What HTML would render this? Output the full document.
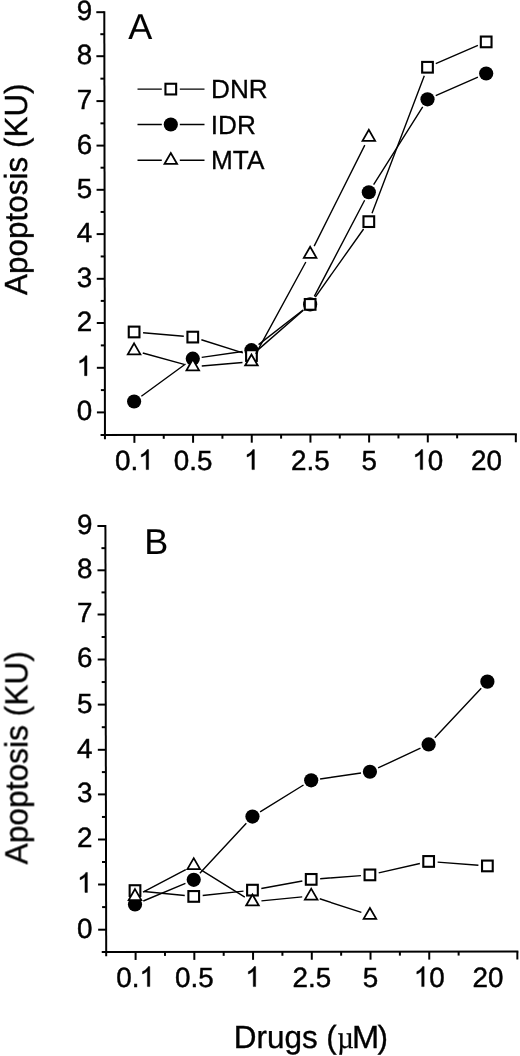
<!DOCTYPE html>
<html><head><meta charset="utf-8"><style>
html,body{margin:0;padding:0;background:#fff;}
svg{display:block;filter:blur(0.3px);}
.t{opacity:0.999;}
text{font-family:"Liberation Sans",sans-serif;fill:#000;text-rendering:geometricPrecision;stroke:#000;}
.tl{stroke-width:0.45px;} .lg{stroke-width:0.3px;} .pl{stroke-width:0.1px;} .at{stroke-width:0.35px;}
path{stroke:#000;}
</style></head><body>
<svg width="520" height="1056" viewBox="0 0 520 1056">
<rect width="520" height="1056" fill="#fff"/>
<g class="t">
<g stroke="#000" stroke-width="2.0" fill="none"><line x1="104.3" y1="11.2" x2="104.95" y2="439.3" /><line x1="100.56" y1="434.9" x2="516.82" y2="434.3" /><line x1="96.91" y1="412.4" x2="104.91" y2="412.4" /><line x1="100.88" y1="390.1" x2="104.88" y2="390.1" /><line x1="96.84" y1="367.8" x2="104.84" y2="367.8" /><line x1="100.81" y1="345.4" x2="104.81" y2="345.4" /><line x1="96.77" y1="323" x2="104.77" y2="323" /><line x1="100.74" y1="300.9" x2="104.74" y2="300.9" /><line x1="96.71" y1="278.8" x2="104.71" y2="278.8" /><line x1="100.67" y1="256.45" x2="104.67" y2="256.45" /><line x1="96.64" y1="234.1" x2="104.64" y2="234.1" /><line x1="100.6" y1="211.95" x2="104.6" y2="211.95" /><line x1="96.57" y1="189.8" x2="104.57" y2="189.8" /><line x1="100.54" y1="167.7" x2="104.54" y2="167.7" /><line x1="96.5" y1="145.6" x2="104.5" y2="145.6" /><line x1="100.47" y1="123.35" x2="104.47" y2="123.35" /><line x1="96.44" y1="101.1" x2="104.44" y2="101.1" /><line x1="100.4" y1="78.65" x2="104.4" y2="78.65" /><line x1="96.37" y1="56.2" x2="104.37" y2="56.2" /><line x1="100.33" y1="34.2" x2="104.33" y2="34.2" /><line x1="96.3" y1="12.2" x2="104.3" y2="12.2" /><line x1="134.4" y1="434.85" x2="134.4" y2="442.85" /><line x1="163.74" y1="434.81" x2="163.74" y2="438.81" /><line x1="193.08" y1="434.77" x2="193.08" y2="442.77" /><line x1="222.42" y1="434.72" x2="222.42" y2="438.72" /><line x1="251.76" y1="434.68" x2="251.76" y2="442.68" /><line x1="281.1" y1="434.64" x2="281.1" y2="438.64" /><line x1="310.44" y1="434.6" x2="310.44" y2="442.6" /><line x1="339.78" y1="434.55" x2="339.78" y2="438.55" /><line x1="369.12" y1="434.51" x2="369.12" y2="442.51" /><line x1="398.46" y1="434.47" x2="398.46" y2="438.47" /><line x1="427.8" y1="434.43" x2="427.8" y2="442.43" /><line x1="457.14" y1="434.38" x2="457.14" y2="438.38" /><line x1="515.82" y1="434.3" x2="515.82" y2="442.3" /></g>
<text class="tl" x="76.64" y="420.3" font-size="27.8">0</text>
<path transform="translate(76.64 375.7) scale(0.01357 -0.01357)" d="M763 0L583 0L583 1147Q518 1085 465 1054Q412 1023 359 992Q306 961 222 930L222 1104Q373 1175 429.5 1225.5Q486 1276 542.5 1326.5Q599 1377 646 1472L763 1472Z" stroke-width="33.15"/>
<text class="tl" x="76.64" y="330.9" font-size="27.8">2</text>
<text class="tl" x="76.64" y="286.7" font-size="27.8">3</text>
<text class="tl" x="76.64" y="242" font-size="27.8">4</text>
<text class="tl" x="76.64" y="197.7" font-size="27.8">5</text>
<text class="tl" x="76.64" y="153.5" font-size="27.8">6</text>
<text class="tl" x="76.64" y="109" font-size="27.8">7</text>
<text class="tl" x="76.64" y="64.1" font-size="27.8">8</text>
<text class="tl" x="76.64" y="20.1" font-size="27.8">9</text>
<text class="tl" x="115.08" y="469.6" font-size="27.8">0.</text><path transform="translate(138.26 469.6) scale(0.01357 -0.01357)" d="M763 0L583 0L583 1147Q518 1085 465 1054Q412 1023 359 992Q306 961 222 930L222 1104Q373 1175 429.5 1225.5Q486 1276 542.5 1326.5Q599 1377 646 1472L763 1472Z" stroke-width="33.15"/>
<text class="tl" x="173.76" y="469.6" font-size="27.8">0.5</text>
<path transform="translate(244.03 469.6) scale(0.01357 -0.01357)" d="M763 0L583 0L583 1147Q518 1085 465 1054Q412 1023 359 992Q306 961 222 930L222 1104Q373 1175 429.5 1225.5Q486 1276 542.5 1326.5Q599 1377 646 1472L763 1472Z" stroke-width="33.15"/>
<text class="tl" x="291.12" y="469.6" font-size="27.8">2.5</text>
<text class="tl" x="361.39" y="469.6" font-size="27.8">5</text>
<path transform="translate(412.34 469.6) scale(0.01357 -0.01357)" d="M763 0L583 0L583 1147Q518 1085 465 1054Q412 1023 359 992Q306 961 222 930L222 1104Q373 1175 429.5 1225.5Q486 1276 542.5 1326.5Q599 1377 646 1472L763 1472Z" stroke-width="33.15"/><text class="tl" x="427.8" y="469.6" font-size="27.8">0</text>
<text class="tl" x="471.02" y="469.6" font-size="27.8">20</text>
<text class="pl" x="128.13" y="38.9" font-size="36.0">A</text>
<path d="M141.37 396.2L185.51 363.97M201.69 357.38L242.55 351.5M258.55 344.67L303.05 309.93M314.31 296.42L364.65 200.25M373.62 184.66L422.7 106.9M435.74 95.67L477.94 77.11" fill="none" stroke="#000" stroke-width="1.4"/>
<circle cx="134.1" cy="401.51" r="7.1" fill="#000"/>
<circle cx="192.78" cy="358.67" r="7.1" fill="#000"/>
<circle cx="251.46" cy="350.21" r="7.1" fill="#000"/>
<circle cx="310.14" cy="304.39" r="7.1" fill="#000"/>
<circle cx="368.82" cy="192.27" r="7.1" fill="#000"/>
<circle cx="427.5" cy="99.29" r="7.1" fill="#000"/>
<circle cx="486.18" cy="73.49" r="7.1" fill="#000"/>
<path d="M143.07 332.75L183.81 336.31M201.37 339.79L242.87 352.85M258.24 349.64L303.36 310.3M315.35 297.05L363.61 228.98M372.02 213.23L424.3 75.67M435.76 63.69L477.92 45.47" fill="none" stroke="#000" stroke-width="1.4"/>
<rect x="128.75" y="326.62" width="10.7" height="10.7" fill="#fff" stroke="#000" stroke-width="2.1"/>
<rect x="187.43" y="331.74" width="10.7" height="10.7" fill="#fff" stroke="#000" stroke-width="2.1"/>
<rect x="246.11" y="350.2" width="10.7" height="10.7" fill="#fff" stroke="#000" stroke-width="2.1"/>
<rect x="304.79" y="299.04" width="10.7" height="10.7" fill="#fff" stroke="#000" stroke-width="2.1"/>
<rect x="363.47" y="216.29" width="10.7" height="10.7" fill="#fff" stroke="#000" stroke-width="2.1"/>
<rect x="422.15" y="61.91" width="10.7" height="10.7" fill="#fff" stroke="#000" stroke-width="2.1"/>
<rect x="480.83" y="36.55" width="10.7" height="10.7" fill="#fff" stroke="#000" stroke-width="2.1"/>
<path d="M142.78 353.03L184.1 364.31M201.75 365.93L242.49 362.53M255.77 353.88L305.83 262.02M314.17 246.07L364.79 145.15" fill="none" stroke="#000" stroke-width="1.4"/>
<path d="M134.1 343.34L140.43 354.32L127.77 354.32Z" fill="#fff" stroke="#000" stroke-width="1.75"/>
<path d="M192.78 359.36L199.11 370.33L186.45 370.33Z" fill="#fff" stroke="#000" stroke-width="1.75"/>
<path d="M251.46 354.47L257.79 365.44L245.13 365.44Z" fill="#fff" stroke="#000" stroke-width="1.75"/>
<path d="M310.14 246.8L316.47 257.77L303.81 257.77Z" fill="#fff" stroke="#000" stroke-width="1.75"/>
<path d="M368.82 129.79L375.15 140.76L362.49 140.76Z" fill="#fff" stroke="#000" stroke-width="1.75"/>
<g stroke="#000" stroke-width="2.0" fill="none"><line x1="105.4" y1="525" x2="106.2" y2="956.3" /><line x1="101.73" y1="952" x2="518.35" y2="951.5" /><line x1="98.15" y1="929.7" x2="106.15" y2="929.7" /><line x1="102.11" y1="907.1" x2="106.11" y2="907.1" /><line x1="98.07" y1="884.5" x2="106.07" y2="884.5" /><line x1="102.02" y1="862" x2="106.02" y2="862" /><line x1="97.98" y1="839.5" x2="105.98" y2="839.5" /><line x1="101.94" y1="816.95" x2="105.94" y2="816.95" /><line x1="97.9" y1="794.4" x2="105.9" y2="794.4" /><line x1="101.86" y1="772.1" x2="105.86" y2="772.1" /><line x1="97.82" y1="749.8" x2="105.82" y2="749.8" /><line x1="101.77" y1="727.2" x2="105.77" y2="727.2" /><line x1="97.73" y1="704.6" x2="105.73" y2="704.6" /><line x1="101.69" y1="682.05" x2="105.69" y2="682.05" /><line x1="97.65" y1="659.5" x2="105.65" y2="659.5" /><line x1="101.61" y1="637" x2="105.61" y2="637" /><line x1="97.56" y1="614.5" x2="105.56" y2="614.5" /><line x1="101.52" y1="592.4" x2="105.52" y2="592.4" /><line x1="97.48" y1="570.3" x2="105.48" y2="570.3" /><line x1="101.44" y1="548.15" x2="105.44" y2="548.15" /><line x1="97.4" y1="526" x2="105.4" y2="526" /><line x1="135.6" y1="951.96" x2="135.6" y2="959.96" /><line x1="164.97" y1="951.92" x2="164.97" y2="955.92" /><line x1="194.33" y1="951.89" x2="194.33" y2="959.89" /><line x1="223.69" y1="951.85" x2="223.69" y2="955.85" /><line x1="253.06" y1="951.82" x2="253.06" y2="959.82" /><line x1="282.42" y1="951.78" x2="282.42" y2="955.78" /><line x1="311.79" y1="951.75" x2="311.79" y2="959.75" /><line x1="341.15" y1="951.71" x2="341.15" y2="955.71" /><line x1="370.52" y1="951.68" x2="370.52" y2="959.68" /><line x1="399.88" y1="951.64" x2="399.88" y2="955.64" /><line x1="429.25" y1="951.61" x2="429.25" y2="959.61" /><line x1="458.62" y1="951.57" x2="458.62" y2="955.57" /><line x1="517.35" y1="951.5" x2="517.35" y2="959.5" /></g>
<text class="tl" x="77.04" y="937.6" font-size="27.8">0</text>
<path transform="translate(77.04 892.4) scale(0.01357 -0.01357)" d="M763 0L583 0L583 1147Q518 1085 465 1054Q412 1023 359 992Q306 961 222 930L222 1104Q373 1175 429.5 1225.5Q486 1276 542.5 1326.5Q599 1377 646 1472L763 1472Z" stroke-width="33.15"/>
<text class="tl" x="77.04" y="847.4" font-size="27.8">2</text>
<text class="tl" x="77.04" y="802.3" font-size="27.8">3</text>
<text class="tl" x="77.04" y="757.7" font-size="27.8">4</text>
<text class="tl" x="77.04" y="712.5" font-size="27.8">5</text>
<text class="tl" x="77.04" y="667.4" font-size="27.8">6</text>
<text class="tl" x="77.04" y="622.4" font-size="27.8">7</text>
<text class="tl" x="77.04" y="578.2" font-size="27.8">8</text>
<text class="tl" x="77.04" y="533.9" font-size="27.8">9</text>
<text class="tl" x="116.28" y="986.6" font-size="27.8">0.</text><path transform="translate(139.46 986.6) scale(0.01357 -0.01357)" d="M763 0L583 0L583 1147Q518 1085 465 1054Q412 1023 359 992Q306 961 222 930L222 1104Q373 1175 429.5 1225.5Q486 1276 542.5 1326.5Q599 1377 646 1472L763 1472Z" stroke-width="33.15"/>
<text class="tl" x="175.01" y="986.6" font-size="27.8">0.5</text>
<path transform="translate(245.33 986.6) scale(0.01357 -0.01357)" d="M763 0L583 0L583 1147Q518 1085 465 1054Q412 1023 359 992Q306 961 222 930L222 1104Q373 1175 429.5 1225.5Q486 1276 542.5 1326.5Q599 1377 646 1472L763 1472Z" stroke-width="33.15"/>
<text class="tl" x="292.47" y="986.6" font-size="27.8">2.5</text>
<text class="tl" x="362.79" y="986.6" font-size="27.8">5</text>
<path transform="translate(413.79 986.6) scale(0.01357 -0.01357)" d="M763 0L583 0L583 1147Q518 1085 465 1054Q412 1023 359 992Q306 961 222 930L222 1104Q373 1175 429.5 1225.5Q486 1276 542.5 1326.5Q599 1377 646 1472L763 1472Z" stroke-width="33.15"/><text class="tl" x="429.25" y="986.6" font-size="27.8">0</text>
<text class="tl" x="472.52" y="986.6" font-size="27.8">20</text>
<text class="pl" x="144.15" y="553.8" font-size="36.0">B</text>
<path d="M143.3 901.01L185.43 883.31M199.86 873.23L246.33 823.2M260.11 811.87L303.54 785.02M320.1 778.99L361.01 773.06M378.08 767.96L420.49 748.21M434.8 737.84L481.23 688.21" fill="none" stroke="#000" stroke-width="1.4"/>
<circle cx="135" cy="904.49" r="7.1" fill="#000"/>
<circle cx="193.73" cy="879.83" r="7.1" fill="#000"/>
<circle cx="252.46" cy="816.6" r="7.1" fill="#000"/>
<circle cx="311.19" cy="780.28" r="7.1" fill="#000"/>
<circle cx="369.92" cy="771.76" r="7.1" fill="#000"/>
<circle cx="428.65" cy="744.41" r="7.1" fill="#000"/>
<circle cx="487.38" cy="681.63" r="7.1" fill="#000"/>
<path d="M143.96 891.48L184.77 895.53M202.68 895.46L243.51 891.1M261.31 888.52L302.34 881M320.16 878.69L360.95 875.58M378.69 872.89L419.88 863.45M437.62 862.13L478.41 865.24" fill="none" stroke="#000" stroke-width="1.4"/>
<rect x="129.65" y="885.24" width="10.7" height="10.7" fill="#fff" stroke="#000" stroke-width="2.1"/>
<rect x="188.38" y="891.07" width="10.7" height="10.7" fill="#fff" stroke="#000" stroke-width="2.1"/>
<rect x="247.11" y="884.79" width="10.7" height="10.7" fill="#fff" stroke="#000" stroke-width="2.1"/>
<rect x="305.84" y="874.03" width="10.7" height="10.7" fill="#fff" stroke="#000" stroke-width="2.1"/>
<rect x="364.57" y="869.55" width="10.7" height="10.7" fill="#fff" stroke="#000" stroke-width="2.1"/>
<rect x="423.3" y="856.09" width="10.7" height="10.7" fill="#fff" stroke="#000" stroke-width="2.1"/>
<rect x="482.03" y="860.58" width="10.7" height="10.7" fill="#fff" stroke="#000" stroke-width="2.1"/>
<path d="M142.96 892.22L185.77 869.67M201.38 870.21L244.81 897.07M261.42 900.91L302.23 896.86M319.74 898.78L361.37 912.44" fill="none" stroke="#000" stroke-width="1.4"/>
<path d="M135 889.1L141.33 900.08L128.67 900.08Z" fill="#fff" stroke="#000" stroke-width="1.75"/>
<path d="M193.73 858.16L200.06 869.14L187.4 869.14Z" fill="#fff" stroke="#000" stroke-width="1.75"/>
<path d="M252.46 894.48L258.79 905.46L246.13 905.46Z" fill="#fff" stroke="#000" stroke-width="1.75"/>
<path d="M311.19 888.66L317.52 899.63L304.86 899.63Z" fill="#fff" stroke="#000" stroke-width="1.75"/>
<path d="M369.92 907.94L376.25 918.91L363.59 918.91Z" fill="#fff" stroke="#000" stroke-width="1.75"/>
<path d="M137.5 89.1H161.8M179.8 89.1H204.5" stroke="#000" stroke-width="1.4"/>
<rect x="165.45" y="83.75" width="10.7" height="10.7" fill="#fff" stroke="#000" stroke-width="2.1"/>
<text class="lg" x="211.05" y="98.1" font-size="26.2">DNR</text>
<path d="M137.5 124.5H161.8M179.8 124.5H204.5" stroke="#000" stroke-width="1.4"/>
<circle cx="170.8" cy="124.5" r="7.1" fill="#000"/>
<text class="lg" x="210.78" y="133.5" font-size="26.2">IDR</text>
<path d="M137.5 160.3H161.8M179.8 160.3H204.5" stroke="#000" stroke-width="1.4"/>
<path d="M170.8 152.99L177.13 163.96L164.47 163.96Z" fill="#fff" stroke="#000" stroke-width="1.75"/>
<text class="lg" x="211.05" y="169.3" font-size="26.2">MTA</text>
<text class="at" font-size="32.0" transform="translate(27 295.06) rotate(-90) scale(0.9833883146396891 1)">Apoptosis (KU)</text>
<text class="at" font-size="32.0" transform="translate(27.4 864.46) rotate(-90) scale(0.9913642694817093 1)">Apoptosis (KU)</text>
<text class="at" transform="translate(233.72 1048.4) scale(0.983 1)" font-size="32.0">Drugs</text>
<text class="at" transform="translate(326.35 1048.4) scale(0.983 1)" font-size="32.0">(</text>
<text transform="translate(337.37 1048.4) scale(0.9 1)" font-size="32" style="font-family:'Liberation Serif',serif;stroke-width:0.3px">µ</text>
<text class="at" transform="translate(352.02 1048.4) scale(1.02 1)" font-size="32.0">M</text>
<text class="at" transform="translate(377.48 1048.4) scale(0.983 1)" font-size="32.0">)</text>
</g>
</svg></body></html>
